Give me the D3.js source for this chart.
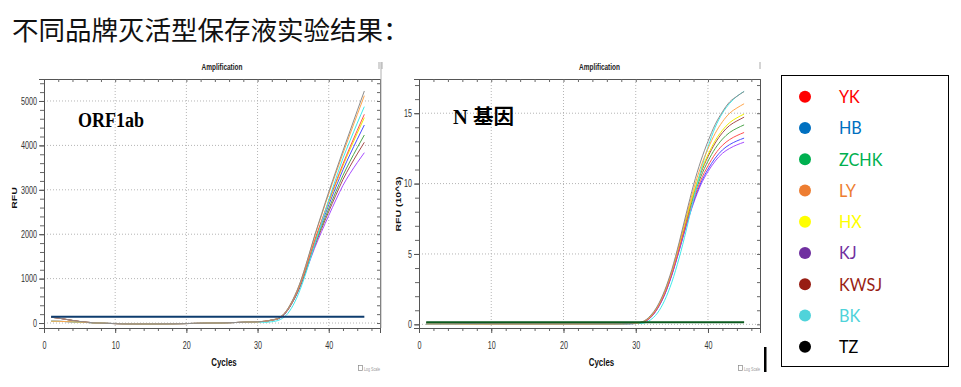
<!DOCTYPE html>
<html>
<head>
<meta charset="utf-8">
<script src="https://cdn.jsdelivr.net/npm/d3@7"></script>
<style>
body { margin: 0; background: #fff; }
svg { display: block; }
</style>
</head>
<body>
<svg id="chart" width="961" height="387"></svg>
<script>
// ---- data ----
var titleText = "不同品牌灭活型保存液实验结果：";
var cycles = d3.range(1, 46);

// legend
var brandNames = ["YK", "HB", "ZCHK", "LY", "HX", "KJ", "KWSJ", "BK", "TZ"];
var brandColors = ["#ff0000", "#0070c0", "#00b050", "#ed7d31", "#ffff00", "#7030a0", "#981e14", "#4fd3da", "#000000"];

// well trace colours used by the instrument plot
var wellKeys = ["purple", "brown", "green", "blue", "yellow", "red", "cyan", "orange", "grey"];
var wellColors = ["#a64dff", "#a64d4d", "#4da64d", "#4d4dff", "#f0f000", "#ff5050", "#40eaea", "#ffa64d", "#8c8c8c"];

// ORF1ab, cycles 1-30 (two baseline shapes seen)
var orfBaseHigh = [130, 112, 85, 58, 35, 18, 6, -3, -9, -13, -16, -18, -19, -19, -19, -18, -17, -16, -14, -12, -9, -6, -3, 0, 4, 8, 12, 17, 23, 30];
var orfBaseLow = [40, 38, 33, 27, 20, 12, 5, -2, -8, -12, -15, -17, -18, -19, -19, -18, -17, -16, -14, -12, -9, -6, -3, 0, 4, 8, 12, 17, 23, 28];
var orfHighWells = ["grey", "red", "green", "brown"];
// ORF1ab, cycles 31-45
var orfGrey = [40, 70, 115, 265, 540, 920, 1420, 1960, 2460, 2950, 3420, 3880, 4330, 4780, 5225];
var orfOrange = [40, 69, 114, 263, 536, 912, 1407, 1939, 2430, 2910, 3371, 3821, 4257, 4691, 5119];
var orfCyan = [15, 30, 65, 170, 400, 760, 1230, 1750, 2260, 2770, 3250, 3710, 4110, 4500, 4872];
var orfRed = [39, 68, 110, 255, 520, 880, 1355, 1854, 2309, 2750, 3174, 3585, 3967, 4338, 4700];
var orfYellow = [38, 67, 110, 253, 517, 875, 1346, 1839, 2287, 2720, 3139, 3542, 3914, 4273, 4624];
var orfBlue = [38, 66, 108, 250, 511, 865, 1326, 1806, 2240, 2658, 3062, 3450, 3801, 4135, 4459];
var orfGreen = [37, 65, 106, 245, 503, 850, 1298, 1760, 2175, 2572, 2957, 3324, 3646, 3946, 4234];
var orfBrown = [36, 65, 104, 242, 497, 838, 1277, 1727, 2127, 2509, 2879, 3231, 3531, 3807, 4070];
var orfPurple = [35, 63, 100, 236, 488, 820, 1248, 1680, 2060, 2420, 2770, 3100, 3370, 3610, 3836];
var orfThreshold = 142;
var orfYTicks = [0, 1000, 2000, 3000, 4000, 5000];

// N gene (RFU x10^3), cycles 1-30
var nBaseHigh = [0.12, 0.11, 0.1, 0.09, 0.08, 0.07, 0.06, 0.05, 0.05, 0.04, 0.04, 0.03, 0.03, 0.03, 0.03, 0.03, 0.03, 0.03, 0.03, 0.03, 0.03, 0.03, 0.03, 0.03, 0.04, 0.04, 0.04, 0.05, 0.06, 0.09];
var nBaseLow = [0.02, 0.02, 0.02, 0.02, 0.02, 0.01, 0.01, 0.01, 0.01, 0.01, 0.01, 0.01, 0.01, 0.01, 0.01, 0.01, 0.01, 0.01, 0.01, 0.01, 0.01, 0.01, 0.01, 0.02, 0.02, 0.02, 0.03, 0.03, 0.04, 0.06];
var nHighWells = ["grey", "red", "brown", "yellow"];
// N gene, cycles 31-45
var nGrey = [0.2, 0.6, 1.3, 2.4, 3.9, 5.8, 7.9, 9.9, 11.6, 13.0, 14.2, 15.1, 15.8, 16.2, 16.54];
var nOrange = [0.19, 0.56, 1.25, 2.33, 3.8, 5.65, 7.68, 9.59, 11.19, 12.48, 13.57, 14.39, 15.0, 15.37, 15.67];
var nCyan = [0.08, 0.3, 0.8, 1.7, 3.0, 4.7, 6.7, 8.9, 10.9, 12.6, 14.0, 15.0, 15.7, 16.2, 16.55];
var nRed = [0.16, 0.48, 1.14, 2.16, 3.58, 5.32, 7.17, 8.85, 10.23, 11.26, 12.1, 12.72, 13.13, 13.41, 13.63];
var nYellow = [0.18, 0.53, 1.21, 2.27, 3.72, 5.53, 7.5, 9.32, 10.85, 12.05, 13.05, 13.79, 14.33, 14.67, 14.94];
var nBlue = [0.15, 0.46, 1.12, 2.12, 3.53, 5.25, 7.07, 8.71, 10.04, 11.02, 11.81, 12.39, 12.77, 13.03, 13.23];
var nGreen = [0.17, 0.5, 1.17, 2.2, 3.64, 5.41, 7.31, 9.04, 10.48, 11.59, 12.49, 13.16, 13.63, 13.93, 14.17];
var nBrown = [0.17, 0.52, 1.2, 2.25, 3.7, 5.5, 7.44, 9.24, 10.74, 11.91, 12.88, 13.61, 14.13, 14.45, 14.72];
var nPurple = [0.15, 0.45, 1.1, 2.1, 3.5, 5.2, 7.0, 8.6, 9.9, 10.85, 11.6, 12.15, 12.5, 12.75, 12.94];
var nThreshold = 0.15;
var nYTicks = [0, 5, 10, 15];

var xTicks = [0, 10, 20, 30, 40];

window.onload = function()
{
    main();
};

function main()
{
    var svg = d3.select("#chart");

    // page title
    svg.append("text")
        .attr("x", 12)
        .attr("y", 40)
        .attr("font-family", "'Noto Sans CJK SC', sans-serif")
        .attr("font-size", 26.5)
        .attr("fill", "#111")
        .text(titleText);

    var orfTails = [orfPurple, orfBrown, orfGreen, orfBlue, orfYellow, orfRed, orfCyan, orfOrange, orfGrey];
    var nTails = [nPurple, nBrown, nGreen, nBlue, nYellow, nRed, nCyan, nOrange, nGrey];

    _drawPanel(svg, {
        left: 44, right: 380, top: 79, bottom: 328,
        yDomain: [-112, 5495],
        yTicks: orfYTicks,
        yMinorStep: 200,
        yLabel: "RFU",
        yLabelX: 14, yLabelY: 198,
        wells: _buildWells(orfTails, orfBaseHigh, orfBaseLow, orfHighWells),
        threshold: orfThreshold,
        thresholdColor: "#0e3c6e",
        tag: "ORF1ab",
        tagX: 78, tagY: 127, tagLen: 66
    });

    _drawPanel(svg, {
        left: 419, right: 760, top: 79, bottom: 328,
        yDomain: [-0.26, 17.43],
        yTicks: nYTicks,
        yMinorStep: 1,
        yLabel: "RFU (10^3)",
        yLabelX: 398, yLabelY: 204,
        wells: _buildWells(nTails, nBaseHigh, nBaseLow, nHighWells),
        threshold: nThreshold,
        thresholdColor: "#0b5a1e",
        tag: "N 基因",
        tagX: 453, tagY: 124, tagLen: 61
    });

    // frame edge of the second screenshot and stray marks
    svg.append("line").attr("x1", 381).attr("x2", 381).attr("y1", 62).attr("y2", 328)
        .attr("stroke", "#b0b0b0").attr("stroke-width", 1);
    [379, 382, 760].forEach(function(x)
    {
        svg.append("line").attr("x1", x).attr("x2", x).attr("y1", 62).attr("y2", 69)
            .attr("stroke", "#aaa").attr("stroke-width", 1);
    });
    svg.append("rect").attr("x", 764).attr("y", 347).attr("width", 2.5).attr("height", 25).attr("fill", "#000");

    _drawLegend(svg);
}

// join baseline and amplification tail for every well
function _buildWells(tails, baseHigh, baseLow, highWells)
{
    return tails.map(function(tail, i)
    {
        var key = wellKeys[i],
            base = highWells.indexOf(key) >= 0 ? baseHigh : baseLow,
            values = base.concat(tail);
        return {
            key: key,
            color: wellColors[i],
            points: cycles.map(function(c, j) { return { c: c, v: values[j] }; })
        };
    });
}

function _drawPanel(svg, o)
{
    var sx = 0.72,
        x = d3.scaleLinear().domain([0, 47.2]).range([o.left, o.right]),
        y = d3.scaleLinear().domain(o.yDomain).range([o.bottom, o.top]),
        g = svg.append("g"),
        xMinor = d3.range(2, 47, 2),
        yMinor = [];

    for (var v = o.yTicks[0]; v <= o.yDomain[1]; v += o.yMinorStep) yMinor.push(+v.toFixed(3));

    // chart title
    g.append("text")
        .attr("transform", "translate(" + ((o.left + o.right) / 2 + 10) + ",70) scale(" + sx + ",1)")
        .attr("text-anchor", "middle")
        .attr("font-family", "'Liberation Sans', Arial, sans-serif")
        .attr("font-weight", "bold")
        .attr("font-size", 9)
        .attr("fill", "#222")
        .text("Amplification");

    // dotted grid
    g.append("g").selectAll("line")
        .data(xTicks.slice(1))
        .enter().append("line")
        .attr("x1", function(d) { return x(d); })
        .attr("x2", function(d) { return x(d); })
        .attr("y1", o.top).attr("y2", o.bottom)
        .attr("stroke", "#b5b5b5").attr("stroke-dasharray", "1,2");
    g.append("g").selectAll("line")
        .data(o.yTicks)
        .enter().append("line")
        .attr("x1", o.left).attr("x2", o.right)
        .attr("y1", function(d) { return y(d); })
        .attr("y2", function(d) { return y(d); })
        .attr("stroke", "#b5b5b5").attr("stroke-dasharray", "1,2");

    // minor ticks: outside on left/bottom, inside on top/right
    var minor = [
        [d3.axisLeft(y).tickValues(yMinor).tickSize(4), "translate(" + o.left + ",0)"],
        [d3.axisLeft(y).tickValues(yMinor).tickSize(3), "translate(" + o.right + ",0)"],
        [d3.axisBottom(x).tickValues(xMinor).tickSize(3), "translate(0," + o.bottom + ")"],
        [d3.axisBottom(x).tickValues(xMinor).tickSize(3), "translate(0," + o.top + ")"]
    ];
    minor.forEach(function(m)
    {
        var a = g.append("g").attr("transform", m[1]).call(m[0].tickFormat(""));
        a.select(".domain").attr("stroke", "#555");
        a.selectAll(".tick line").attr("stroke", "#666");
    });

    // major axes with labels
    var yAxis = g.append("g")
        .attr("transform", "translate(" + o.left + ",0)")
        .call(d3.axisLeft(y).tickValues(o.yTicks).tickSize(5).tickFormat(d3.format("d")));
    var xAxis = g.append("g")
        .attr("transform", "translate(0," + o.bottom + ")")
        .call(d3.axisBottom(x).tickValues(xTicks).tickSize(5).tickFormat(d3.format("d")));
    [yAxis, xAxis].forEach(function(a)
    {
        a.attr("font-family", "'Liberation Sans', Arial, sans-serif").attr("font-size", 10);
        a.select(".domain").attr("stroke", "#555");
        a.selectAll(".tick line").attr("stroke", "#555");
        a.selectAll(".tick text").attr("fill", "#333").attr("transform", "scale(" + sx + ",1)");
    });
    yAxis.selectAll(".tick text").attr("x", -7 / sx);
    xAxis.selectAll(".tick text").attr("y", 14);

    // axis titles
    g.append("text")
        .attr("transform", "translate(" + ((o.left + o.right) / 2 + 12) + ",366) scale(" + sx + ",1)")
        .attr("text-anchor", "middle")
        .attr("font-family", "'Liberation Sans', Arial, sans-serif")
        .attr("font-weight", "bold").attr("font-size", 11).attr("fill", "#111")
        .text("Cycles");
    g.append("text")
        .attr("transform", "translate(" + o.yLabelX + "," + o.yLabelY + ") scale(" + sx + ",1) rotate(-90)")
        .attr("text-anchor", "middle")
        .attr("dy", "0.35em")
        .attr("font-family", "'Liberation Sans', Arial, sans-serif")
        .attr("font-weight", "bold").attr("font-size", 10.5).attr("fill", "#111")
        .text(o.yLabel);

    // log scale checkbox
    g.append("rect").attr("x", o.right - 21.5).attr("y", 365.5).attr("width", 4).attr("height", 5)
        .attr("fill", "#fff").attr("stroke", "#888").attr("stroke-width", 0.7);
    g.append("text")
        .attr("transform", "translate(" + (o.right - 16) + ",370.5) scale(" + sx + ",1)")
        .attr("font-family", "'Liberation Sans', Arial, sans-serif")
        .attr("font-size", 5).attr("fill", "#999")
        .text("Log Scale");

    // amplification traces
    var line = d3.line()
        .x(function(d) { return x(d.c); })
        .y(function(d) { return y(d.v); })
        .curve(d3.curveMonotoneX);

    g.append("g").selectAll("path")
        .data(o.wells)
        .enter().append("path")
        .attr("d", function(d) { return line(d.points); })
        .attr("fill", "none")
        .attr("stroke", function(d) { return d.color; })
        .attr("stroke-width", 1);

    // threshold line
    g.append("line")
        .attr("x1", x(1)).attr("x2", x(45))
        .attr("y1", y(o.threshold)).attr("y2", y(o.threshold))
        .attr("stroke", o.thresholdColor).attr("stroke-width", 2);

    // target label
    g.append("text")
        .attr("x", o.tagX).attr("y", o.tagY)
        .attr("font-family", "'Liberation Serif', 'Noto Sans CJK SC', serif")
        .attr("font-weight", "bold")
        .attr("font-size", 20)
        .attr("textLength", o.tagLen)
        .attr("lengthAdjust", "spacingAndGlyphs")
        .attr("fill", "#000")
        .text(o.tag);
}

function _drawLegend(svg)
{
    var g = svg.append("g");
    g.append("rect")
        .attr("x", 781.5).attr("y", 75.5)
        .attr("width", 167).attr("height", 291)
        .attr("fill", "#fff").attr("stroke", "#000").attr("stroke-width", 1);

    var item = g.selectAll(".item")
        .data(brandNames)
        .enter().append("g")
        .attr("transform", function(d, i) { return "translate(0," + (96.7 + i * 31.25) + ")"; });

    item.append("circle")
        .attr("cx", 805).attr("cy", 0).attr("r", 6)
        .attr("fill", function(d, i) { return brandColors[i]; });

    item.append("text")
        .attr("transform", "translate(839,0) scale(0.9,1)")
        .attr("dy", "0.36em")
        .attr("font-family", "Lato, 'Open Sans', sans-serif")
        .attr("font-size", 18)
        .attr("fill", function(d, i) { return brandColors[i]; })
        .text(function(d) { return d; });
}
</script>
</body>
</html>
